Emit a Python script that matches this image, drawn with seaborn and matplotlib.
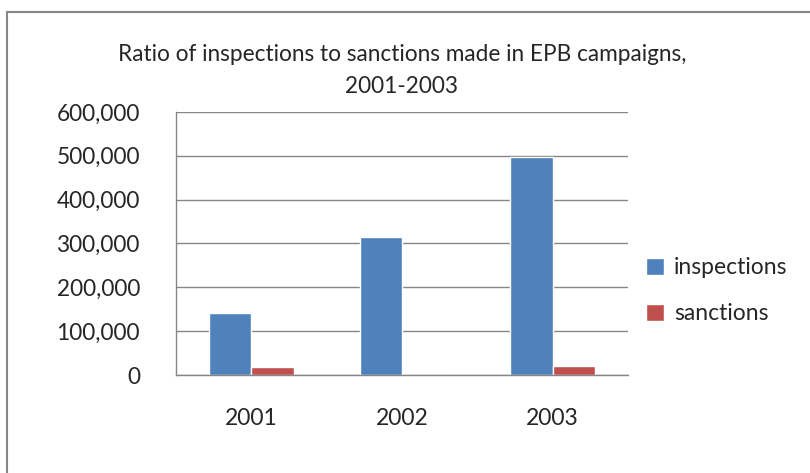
import matplotlib
matplotlib.use("Agg")
import matplotlib.pyplot as plt
import seaborn as sns
import pandas as pd
from matplotlib.patches import Rectangle
from matplotlib.ticker import FuncFormatter

years = ["2001", "2002", "2003"]
inspections = [141000, 315000, 497000]
sanctions = [18000, 0, 21000]

df = pd.DataFrame({
    "year": years * 2,
    "value": inspections + sanctions,
    "series": ["inspections"] * 3 + ["sanctions"] * 3,
})

sns.set_style("white")
plt.rcParams["font.family"] = ["Lato", "DejaVu Sans"]

fig = plt.figure(figsize=(8.1, 4.73), dpi=100)
ax = fig.add_axes([176/810, 1 - 375/473, (628-176)/810, (375-112)/473])

sns.barplot(data=df, x="year", y="value", hue="series",
            palette=["#4F81BD", "#C0504D"], width=0.56, ax=ax,
            saturation=1, gap=0)

ax.set_ylim(0, 600000)
ax.set_yticks(range(0, 600001, 100000))
ax.yaxis.set_major_formatter(FuncFormatter(lambda v, p: f"{int(v):,}"))
ax.grid(axis="y", color="#868686", linewidth=1)
ax.set_axisbelow(True)
ax.set_xlabel("")
ax.set_ylabel("")
for s in ["top", "right"]:
    ax.spines[s].set_visible(False)
for s in ["left", "bottom"]:
    ax.spines[s].set_color("#868686")
    ax.spines[s].set_linewidth(1)
ax.tick_params(axis="y", labelsize=16.3, length=0, pad=26)
ax.tick_params(axis="x", labelsize=16.5, length=0, pad=24)

ax.set_title("Ratio of inspections to sanctions made in EPB campaigns,\n2001-2003",
             fontsize=16.3, pad=14, linespacing=1.6)

leg = ax.legend(loc="center left", bbox_to_anchor=(0.995, 0.32), frameon=False,
                fontsize=16.5, handlelength=0.75, handleheight=0.75,
                handletextpad=0.45, labelspacing=1.1)

fig.patches.append(Rectangle((7/810, -0.1), 1.0, 1 - 12/473 + 0.1,
                             transform=fig.transFigure, fill=False,
                             edgecolor="#868686", linewidth=1.5))

fig.savefig("out.png", dpi=100)
